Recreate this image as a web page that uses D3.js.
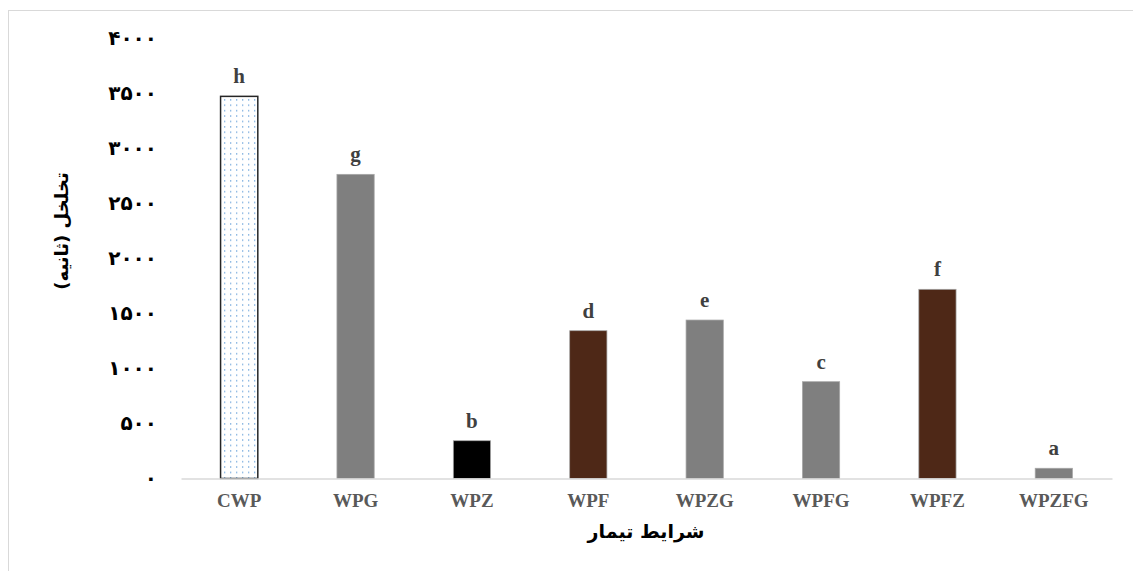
<!DOCTYPE html>
<html>
<head>
<meta charset="utf-8">
<script src="https://cdn.jsdelivr.net/npm/d3@7"></script>
<style>
  html, body { margin: 0; padding: 0; background: #fff; }
  svg { display: block; }
</style>
</head>
<body>
<svg id="chart" width="1133" height="571"></svg>
<script>
// Treatments, porosity time (seconds) and significance groups
const categories = ["CWP", "WPG", "WPZ", "WPF", "WPZG", "WPFG", "WPFZ", "WPZFG"];
const values = [3470, 2762, 343, 1342, 1439, 879, 1718, 93];
const groups = ["h", "g", "b", "d", "e", "c", "f", "a"];
const fills = ["pattern", "#7f7f7f", "#000000", "#4e2817", "#7f7f7f", "#7f7f7f", "#4e2817", "#7f7f7f"];
const yTicks = [0, 500, 1000, 1500, 2000, 2500, 3000, 3500, 4000];
const yTitle = "تخلخل (ثانیه)";
const xTitle = "شرایط تیمار";

const svg = d3.select("#chart");

// Outer chart frame
svg.append("rect")
  .attr("x", 8.5).attr("y", 10.5)
  .attr("width", 1140).attr("height", 600)
  .attr("fill", "none").attr("stroke", "#d9d9d9").attr("stroke-width", 1);

// Dotted fill for the control bar
const defs = svg.append("defs");
const pat = defs.append("pattern")
  .attr("id", "dots").attr("patternUnits", "userSpaceOnUse")
  .attr("width", 6).attr("height", 5.4);
pat.append("rect").attr("width", 6).attr("height", 5.4).attr("fill", "#ffffff");
pat.append("rect").attr("x", 2).attr("y", 2).attr("width", 1.3).attr("height", 1.3).attr("fill", "#6fa6dc");

const x = d3.scaleBand().domain(categories).range([181, 1112]).paddingInner(0.68).paddingOuter(0.34);
const y = d3.scaleLinear().domain([0, 4000]).range([478.5, 38]);

const toPersian = n => String(n).replace(/\d/g, d => "۰۱۲۳۴۵۶۷۸۹"[d]);

// Y axis labels (no axis line or ticks)
const yAxis = d3.axisLeft(y).tickValues(yTicks).tickFormat(toPersian).tickSize(0).tickPadding(0);
const gy = svg.append("g").attr("transform", "translate(157,0)").call(yAxis);
gy.select(".domain").remove();
gy.selectAll("text")
  .attr("font-family", "'DejaVu Sans', sans-serif")
  .attr("font-weight", "bold")
  .attr("font-size", 20)
  .attr("letter-spacing", "7px")
  .attr("fill", "#000");

// Bars
const data = categories.map((c, i) => ({ c, v: values[i], g: groups[i], f: fills[i] }));
svg.append("g").selectAll("rect").data(data).join("rect")
  .attr("x", d => x(d.c))
  .attr("y", d => y(d.v))
  .attr("width", x.bandwidth())
  .attr("height", d => y(0) - y(d.v))
  .attr("fill", d => d.f === "pattern" ? "url(#dots)" : d.f)
  .attr("stroke", d => d.f === "pattern" ? "#262626" : "#a6a6a6")
  .attr("stroke-width", d => d.f === "pattern" ? 1.5 : 0.75);

// X axis line and category labels
const xAxis = d3.axisBottom(x).tickSize(0).tickPadding(0);
const gx = svg.append("g").attr("transform", `translate(0,${y(0)})`).call(xAxis);
gx.select(".domain").attr("stroke", "#d9d9d9").attr("stroke-width", 1.5);
gx.selectAll("text")
  .attr("dy", 0).attr("y", 28)
  .attr("font-family", "'Liberation Serif', 'Times New Roman', serif")
  .attr("font-weight", "bold")
  .attr("font-size", 19)
  .attr("fill", "#595959");

// Group letters above bars
svg.append("g").selectAll("text").data(data).join("text")
  .attr("x", d => x(d.c) + x.bandwidth() / 2)
  .attr("y", d => y(d.v) - 13)
  .attr("text-anchor", "middle")
  .attr("font-family", "'Liberation Serif', 'Times New Roman', serif")
  .attr("font-weight", "bold")
  .attr("font-size", 21)
  .attr("fill", "#404040")
  .text(d => d.g);

// Axis titles
svg.append("text")
  .attr("x", 646).attr("y", 538)
  .attr("text-anchor", "middle")
  .attr("direction", "rtl")
  .attr("font-family", "'DejaVu Sans', sans-serif")
  .attr("font-weight", "bold")
  .attr("font-size", 19)
  .attr("fill", "#000")
  .text(xTitle);

svg.append("text")
  .attr("transform", "translate(68,231) rotate(-90)")
  .attr("text-anchor", "middle")
  .attr("direction", "rtl")
  .attr("font-family", "'DejaVu Sans', sans-serif")
  .attr("font-weight", "bold")
  .attr("font-size", 18)
  .attr("fill", "#000")
  .text(yTitle);
</script>
</body>
</html>
